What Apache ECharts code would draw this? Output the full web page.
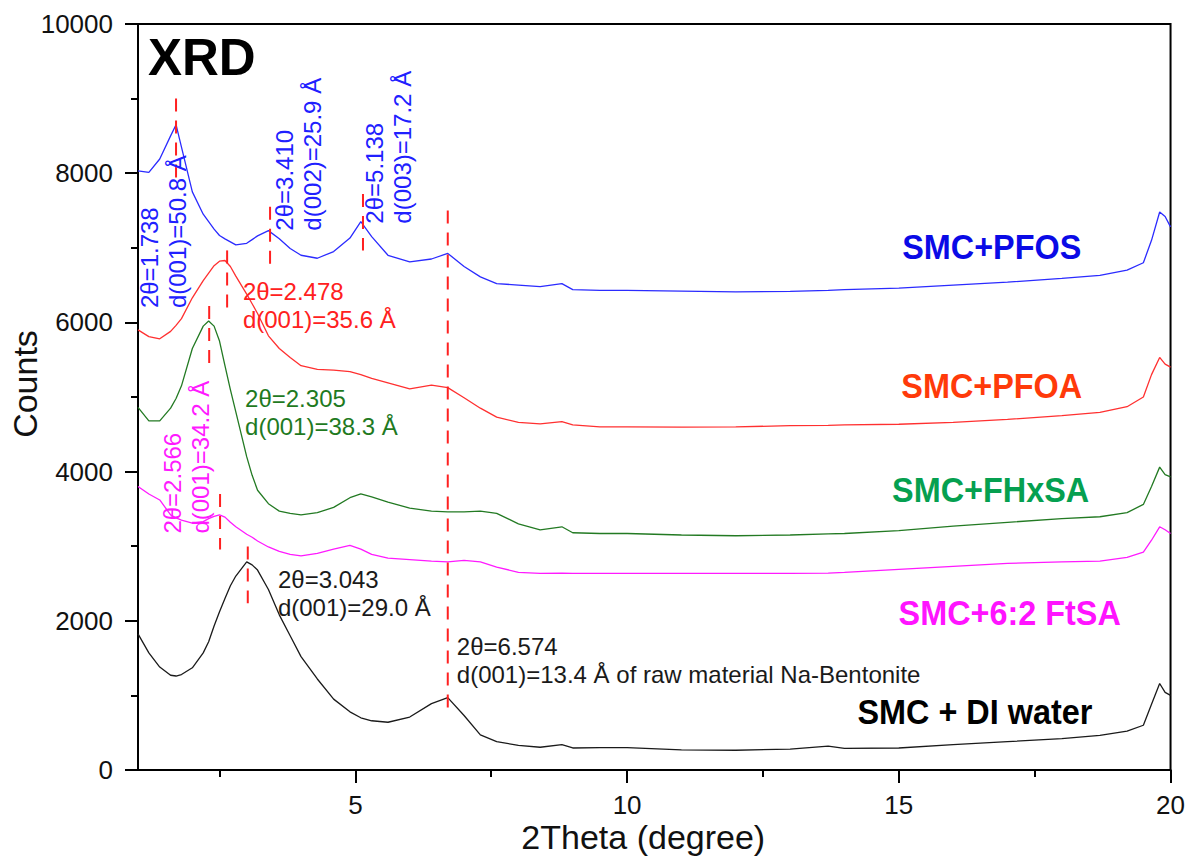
<!DOCTYPE html>
<html>
<head>
<meta charset="utf-8">
<script src="https://cdn.jsdelivr.net/npm/echarts@6/dist/echarts.min.js"></script>
<style>
html, body { margin: 0; padding: 0; background: #fff; }
#main { width: 1188px; height: 859px; }
</style>
</head>
<body>
<div id="main"></div>
<script>
// 2Theta sampling points (degree)
var twoTheta = [1.0, 1.2, 1.4, 1.6, 1.7, 1.8, 2.0, 2.2, 2.3, 2.4, 2.5, 2.6, 2.7, 2.8, 3.0, 3.1, 3.2, 3.4, 3.6, 3.8,
    4.0, 4.3, 4.6, 4.9, 5.1, 5.3, 5.6, 6.0, 6.4, 6.7, 7.0, 7.3, 7.6, 8.0, 8.4, 8.8, 9.0, 9.5, 10, 11,
    12, 13, 13.7, 14, 15, 16, 17, 18, 18.7, 19.2, 19.5, 19.65, 19.8, 19.9, 20];

// counts
var pfos = [8030, 8010, 8190, 8500, 8650, 8350, 7750, 7450, 7350, 7250, 7165, 7120, 7080, 7040, 7060, 7110, 7160, 7230, 7120, 6990,
    6900, 6860, 6950, 7130, 7350, 7150, 6900, 6810, 6850, 6925, 6750, 6610, 6520, 6500, 6480, 6520, 6440, 6430, 6430, 6420,
    6410, 6415, 6430, 6440, 6460, 6500, 6540, 6590, 6630, 6700, 6800, 7100, 7480, 7420, 7280];
var pfoa = [5900, 5810, 5780, 5880, 5960, 6050, 6330, 6560, 6660, 6760, 6820, 6830, 6750, 6620, 6380, 6250, 6120, 5820, 5650, 5530,
    5420, 5370, 5360, 5340, 5300, 5250, 5190, 5110, 5160, 5125, 4990, 4850, 4730, 4660, 4640, 4670, 4625, 4600, 4600, 4595,
    4600, 4615, 4620, 4625, 4635, 4660, 4700, 4750, 4795, 4870, 5000, 5300, 5530, 5440, 5400];
var fhxsa = [4860, 4680, 4680, 4850, 4980, 5150, 5650, 5950, 6020, 5950, 5750, 5420, 5100, 4800, 4200, 3950, 3750, 3570, 3470, 3440,
    3420, 3450, 3520, 3650, 3700, 3660, 3590, 3510, 3470, 3460, 3460, 3470, 3440, 3300, 3220, 3260, 3180, 3170, 3170, 3150,
    3140, 3150, 3165, 3170, 3210, 3270, 3320, 3370, 3395, 3450, 3560, 3800, 4060, 3960, 3930];
var ftsa = [3800, 3700, 3620, 3420, 3380, 3350, 3310, 3330, 3370, 3400, 3420, 3390, 3320, 3260, 3160, 3120, 3070, 2990, 2930, 2890,
    2870, 2905, 2960, 3010, 2960, 2890, 2840, 2820, 2800, 2790, 2810, 2790, 2720, 2650, 2635, 2640, 2635, 2635, 2635, 2635,
    2635, 2635, 2640, 2650, 2690, 2730, 2770, 2790, 2800, 2850, 2920, 3080, 3260, 3220, 3170];
var diWater = [1825, 1570, 1380, 1270, 1260, 1280, 1370, 1570, 1720, 1930, 2120, 2300, 2470, 2600, 2790, 2750, 2680, 2420, 2080, 1800,
    1520, 1220, 950, 780, 700, 660, 640, 710, 890, 970, 730, 470, 380, 330, 305, 340, 295, 300, 300, 270,
    265, 280, 320, 290, 295, 340, 380, 420, 465, 520, 600, 880, 1160, 1040, 1000];

var seriesNames = ['SMC+PFOS', 'SMC+PFOA', 'SMC+FHxSA', 'SMC+6:2 FtSA', 'SMC + DI water'];
var seriesValues = [pfos, pfoa, fhxsa, ftsa, diWater];
var lineColors = ['#2b2bff', '#ff3030', '#237a23', '#ff1aff', '#1a1a1a'];
var nameColors = ['#0a0ae6', '#ff3a0a', '#05a050', '#ff14ff', '#000000'];

// peak marker segments: [2theta, from count, to count]
var peakLines = [[1.70, 9000, 7800], [3.43, 7550, 6765], [5.14, 7720, 6965], [2.64, 6965, 6190],
    [2.31, 6220, 5390], [2.51, 3700, 2955], [3.02, 2995, 2235], [6.70, 7500, 730]];

var peakTexts = [
    '2θ=1.738\nd(001)=50.8 Å', '2θ=3.410\nd(002)=25.9 Å', '2θ=5.138\nd(003)=17.2 Å',
    '2θ=2.478\nd(001)=35.6 Å', '2θ=2.305\nd(001)=38.3 Å', '2θ=2.566\nd(001)=34.2 Å',
    '2θ=3.043\nd(001)=29.0 Å', '2θ=6.574\nd(001)=13.4 Å of raw material Na-Bentonite'
];

var xMajorTicks = [5, 10, 15, 20];
var xMinorTicks = [2.5, 7.5, 12.5, 17.5];

// where the annotation texts sit (data coords of text anchor)
var peakTextPos = [[0.963, 6192, 1, '#2020ff'], [3.446, 7230, 1, '#2020ff'], [5.10, 7324, 1, '#2020ff'],
    [2.93, 6605, 0, '#ff2020'], [2.97, 5166, 0, '#1f7a1f'], [1.386, 3169, 1, '#ff1aff'],
    [3.575, 2743, 0, '#1a1a1a'], [6.867, 1838, 0, '#1a1a1a']];
var namePos = [[16.71, 7017], [16.71, 5153], [16.69, 3755], [17.04, 2117], [16.40, 786]];

var fontFamily = '"Liberation Sans", Arial, sans-serif';

var dom = document.getElementById('main');
var myChart = echarts.init(dom, null, { renderer: 'svg' });

var series = [];
for (var i = 0; i < seriesNames.length; i++) {
    series.push({
        name: seriesNames[i],
        type: 'line',
        symbol: 'none',
        data: twoTheta.map(function (x, j) { return [x, seriesValues[i][j]]; }),
        lineStyle: { color: lineColors[i], width: 1.3 },
        z: 3
    });
}
peakLines.forEach(function (p) {
    series.push({
        type: 'line',
        symbol: 'none',
        data: [[p[0], p[1]], [p[0], p[2]]],
        lineStyle: { color: '#ff2020', width: 2, type: [13, 9] },
        z: 4,
        silent: true
    });
});

var option = {
    backgroundColor: '#fff',
    animation: false,
    title: {
        text: 'XRD',
        left: 143,
        top: 27,
        textStyle: { fontFamily: fontFamily, fontSize: 51, fontWeight: 'bold', color: '#000' }
    },
    grid: {
        left: 138, right: 17, top: 24, bottom: 84,
        show: true, borderColor: '#000', borderWidth: 2, backgroundColor: 'transparent'
    },
    xAxis: [{
        type: 'value',
        min: 1,
        max: 20,
        name: '2Theta (degree)',
        nameLocation: 'middle',
        nameGap: 50,
        nameMoveOverlap: false,
        nameTextStyle: { fontFamily: fontFamily, fontSize: 34, color: '#111', padding: [0, 22, 0, 0] },
        axisLine: { lineStyle: { color: '#000', width: 2 } },
        axisTick: { show: true, length: 13, customValues: xMajorTicks, lineStyle: { color: '#000', width: 2 } },
        axisLabel: { customValues: xMajorTicks, margin: 22, fontFamily: fontFamily, fontSize: 26, color: '#111' },
        splitLine: { show: false }
    }, {
        type: 'value',
        min: 1,
        max: 20,
        position: 'bottom',
        axisLine: { show: false },
        axisTick: { show: true, length: 7, customValues: xMinorTicks, lineStyle: { color: '#000', width: 2 } },
        axisLabel: { show: false },
        splitLine: { show: false }
    }],
    yAxis: {
        type: 'value',
        min: 0,
        max: 10000,
        interval: 2000,
        name: 'Counts',
        nameLocation: 'middle',
        nameGap: 96,
        nameMoveOverlap: false,
        nameTextStyle: { fontFamily: fontFamily, fontSize: 34, color: '#111', padding: [0, 0, 0, 26] },
        axisLine: { show: true, lineStyle: { color: '#000', width: 2 } },
        axisTick: { show: true, length: 13, lineStyle: { color: '#000', width: 2 } },
        minorTick: { show: true, splitNumber: 2, length: 7, lineStyle: { color: '#000', width: 2 } },
        axisLabel: {
            margin: 25, fontFamily: fontFamily, fontSize: 26, color: '#111',
            formatter: function (v) { return String(v); }
        },
        splitLine: { show: false }
    },
    series: series
};
myChart.setOption(option);

// annotation texts placed through the grid's coordinate system
var graphics = [];
peakTexts.forEach(function (t, k) {
    var pos = peakTextPos[k];
    var px = myChart.convertToPixel({ gridIndex: 0 }, [pos[0], pos[1]]);
    graphics.push({
        type: 'text',
        x: px[0],
        y: px[1],
        rotation: pos[2] ? Math.PI / 2 : 0,
        z: 10,
        style: {
            text: t,
            fill: pos[3],
            font: '24px ' + fontFamily,
            textAlign: 'left',
            textVerticalAlign: 'top',
            lineHeight: 28
        }
    });
});
seriesNames.forEach(function (n, k) {
    var px = myChart.convertToPixel({ gridIndex: 0 }, namePos[k]);
    graphics.push({
        type: 'text',
        x: px[0],
        y: px[1],
        scaleX: 0.9,
        z: 10,
        style: {
            text: n,
            fill: nameColors[k],
            font: 'bold 36px ' + fontFamily,
            textAlign: 'center',
            textVerticalAlign: 'middle'
        }
    });
});
myChart.setOption({ graphic: graphics });
</script>
</body>
</html>
